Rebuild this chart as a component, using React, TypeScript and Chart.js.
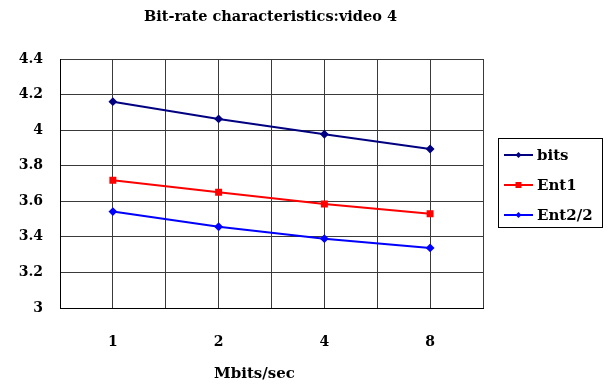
import React, { useEffect, useRef } from "react";
import { Chart, registerables } from "chart.js";

Chart.register(...registerables);

const titleText = "Bit-rate characteristics:video 4";
const xAxisTitle = "Mbits/sec";
const categories = ["1", "2", "4", "8"];
const bits = [4.16, 4.063, 3.977, 3.894];
const ent1 = [3.718, 3.651, 3.585, 3.53];
const ent2half = [3.542, 3.457, 3.39, 3.338];
const seriesNames = ["bits", "Ent1", "Ent2/2"];
const yMin = 3;
const yMax = 4.4;
const yStep = 0.2;

const FONT = "'DejaVu Serif', 'Liberation Serif', serif";

const toPoints = (vals: number[]) => vals.map((v, i) => ({ x: i + 1, y: v }));

const decorPlugin = {
  id: "decor",
  afterDraw(chart: any) {
    const ctx = chart.ctx;
    const area = chart.chartArea;
    ctx.save();
    ctx.fillStyle = "#000";
    ctx.textAlign = "center";
    ctx.textBaseline = "middle";
    ctx.font = `bold 14.5px ${FONT}`;
    ctx.fillText(titleText, (area.left + area.right) / 2 - 1, 17);
    ctx.font = `bold 15px ${FONT}`;
    ctx.fillText(xAxisTitle, (area.left + area.right) / 2 - 17, 374);

    // legend
    const bx = 498, by = 138, bw = 104, bh = 89;
    ctx.strokeStyle = "#000";
    ctx.lineWidth = 1;
    ctx.strokeRect(bx + 0.5, by + 0.5, bw, bh);
    ctx.textAlign = "left";
    ctx.font = `bold 15px ${FONT}`;
    chart.data.datasets.forEach((ds: any, i: number) => {
      const y = 155 + i * 30;
      ctx.strokeStyle = ds.borderColor;
      ctx.lineWidth = 2;
      ctx.beginPath();
      ctx.moveTo(504, y);
      ctx.lineTo(533, y);
      ctx.stroke();
      ctx.fillStyle = ds.pointBackgroundColor;
      const cx = 518.5;
      if (ds.pointStyle === "rect") {
        ctx.fillRect(cx - 3, y - 3, 6, 6);
      } else {
        ctx.beginPath();
        ctx.moveTo(cx, y - 3);
        ctx.lineTo(cx + 3, y);
        ctx.lineTo(cx, y + 3);
        ctx.lineTo(cx - 3, y);
        ctx.closePath();
        ctx.fill();
      }
      ctx.fillStyle = "#000";
      ctx.fillText(ds.label, 537, y + 1);
    });
    ctx.restore();
  },
};

export default function App() {
  const ref = useRef<HTMLCanvasElement>(null);
  useEffect(() => {
    document.body.style.margin = "0";
    const canvas = ref.current!;
    const chart = new Chart(canvas, {
      type: "line",
      data: {
        datasets: [
          {
            label: seriesNames[0],
            data: toPoints(bits),
            borderColor: "#000080",
            backgroundColor: "#000080",
            pointBackgroundColor: "#000080",
            pointBorderColor: "#000080",
            pointStyle: "rectRot",
            pointRadius: 3,
            borderWidth: 2,
          },
          {
            label: seriesNames[1],
            data: toPoints(ent1),
            borderColor: "#ff0000",
            backgroundColor: "#ff0000",
            pointBackgroundColor: "#ff0000",
            pointBorderColor: "#ff0000",
            pointStyle: "rect",
            pointRadius: 3.5,
            borderWidth: 2,
          },
          {
            label: seriesNames[2],
            data: toPoints(ent2half),
            borderColor: "#0000ff",
            backgroundColor: "#0000ff",
            pointBackgroundColor: "#0000ff",
            pointBorderColor: "#0000ff",
            pointStyle: "rectRot",
            pointRadius: 3,
            borderWidth: 2,
          },
        ],
      },
      options: {
        responsive: false,
        animation: false,
        events: [],
        layout: { padding: { top: 59, right: 129, left: 0, bottom: 0 } },
        plugins: { legend: { display: false }, tooltip: { enabled: false }, title: { display: false } },
        scales: {
          x: {
            type: "linear",
            min: 0.5,
            max: categories.length + 0.5,
            afterFit: (s: any) => { s.height = 81; },
            afterBuildTicks: (s: any) => {
              const t = [];
              for (let v = 0.5; v <= categories.length + 0.5; v += 0.5) t.push({ value: v });
              s.ticks = t;
            },
            grid: { color: "#3a3a3a", lineWidth: 1, drawTicks: false },
            border: { color: "#000", width: 1 },
            ticks: {
              padding: 26,
              color: "#000",
              font: { family: FONT, size: 14, weight: "bold" },
              maxRotation: 0,
              autoSkip: false,
              callback: (v: any) => (Number.isInteger(v) ? categories[v - 1] : ""),
            },
          },
          y: {
            min: yMin,
            max: yMax,
            afterFit: (s: any) => { s.width = 60; },
            grid: { color: "#3a3a3a", lineWidth: 1, drawTicks: false },
            border: { color: "#000", width: 1 },
            ticks: {
              stepSize: yStep,
              padding: 17,
              color: "#000",
              font: { family: FONT, size: 14, weight: "bold" },
              callback: (v: any) => String(Math.round(v * 10) / 10),
            },
          },
        },
      },
      plugins: [decorPlugin],
    } as any);
    return () => chart.destroy();
  }, []);
  return (
    <div style={{ width: 612, height: 389 }}>
      <canvas ref={ref} width={612} height={389} />
    </div>
  );
}
